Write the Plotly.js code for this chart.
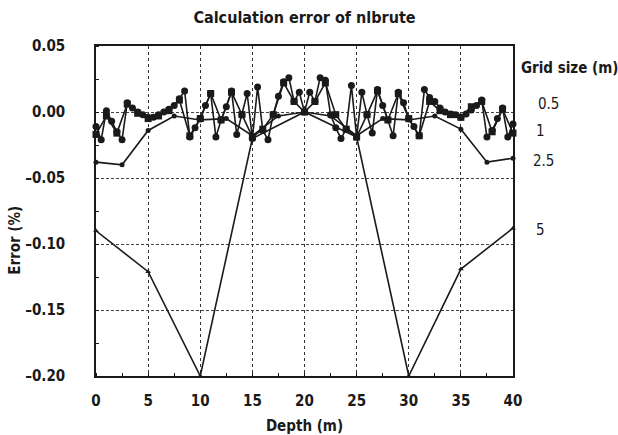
<!DOCTYPE html>
<html>
<head>
<meta charset="utf-8">
<script src="https://cdn.plot.ly/plotly-3.0.1.min.js"></script>
<style>
html,body{margin:0;padding:0;background:#fff;}
#chart{width:618px;height:435px;}
#chart text{font-stretch:condensed;}
</style>
</head>
<body>
<div id="chart"></div>
<script>
// Depth positions for each grid size (m)
const depth05 = [0,0.5,1,1.5,2,2.5,3,3.5,4,4.5,5,5.5,6,6.5,7,7.5,8,8.5,9,9.5,10,10.5,11,11.5,12,12.5,13,13.5,14,14.5,15,15.5,16,16.5,17,17.5,18,18.5,19,19.5,20,20.5,21,21.5,22,22.5,23,23.5,24,24.5,25,25.5,26,26.5,27,27.5,28,28.5,29,29.5,30,30.5,31,31.5,32,32.5,33,33.5,34,34.5,35,35.5,36,36.5,37,37.5,38,38.5,39,39.5,40];
const err05 = [-0.011,-0.021,0.001,-0.007,-0.015,-0.021,0.007,0.003,0.000,-0.002,-0.004,-0.004,-0.002,0.000,0.002,0.005,0.010,0.016,-0.019,-0.012,-0.005,0.005,0.014,-0.019,-0.006,0.004,0.016,-0.017,-0.002,0.014,-0.020,0.019,-0.014,-0.021,-0.002,0.012,0.023,0.026,0.008,0.015,0.000,0.015,0.008,0.026,0.024,-0.002,-0.012,-0.020,-0.013,0.020,-0.019,0.015,-0.002,-0.016,0.017,0.005,-0.006,-0.018,0.015,0.007,-0.005,-0.011,-0.018,0.017,0.011,0.008,0.003,0.000,-0.0015,-0.002,-0.004,-0.0015,0.0015,0.005,0.009,-0.019,-0.014,-0.005,0.003,-0.019,-0.009];

const depth1 = [0,1,2,3,4,5,6,7,8,9,10,11,12,13,14,15,16,17,18,19,20,21,22,23,24,25,26,27,28,29,30,31,32,33,34,35,36,37,38,39,40];
const err1 = [-0.017,-0.003,-0.016,0.006,-0.001,-0.005,-0.003,0.001,0.009,-0.018,-0.005,0.014,-0.006,0.015,-0.002,-0.019,-0.013,-0.002,0.022,0.008,0.000,0.008,0.022,-0.002,-0.013,-0.019,-0.002,0.016,-0.006,0.014,-0.005,-0.018,0.008,0.001,-0.002,-0.004,0.004,0.008,-0.015,0.002,-0.016];

const depth25 = [0,2.5,5,7.5,10,12.5,15,17.5,20,22.5,25,27.5,30,32.5,35,37.5,40];
const err25 = [-0.038,-0.040,-0.014,-0.003,-0.006,-0.005,-0.018,-0.003,0.000,-0.003,-0.018,-0.005,-0.006,-0.003,-0.013,-0.038,-0.035];

const depth5 = [0,5,10,15,20,25,30,35,40];
const err5 = [-0.090,-0.121,-0.200,-0.020,0.000,-0.019,-0.200,-0.119,-0.088];

const gridLabels = ["0.5","1","2.5","5"];
const xTicks = [0,5,10,15,20,25,30,35,40];
const yTicks = [0.05,0.00,-0.05,-0.10,-0.15,-0.20];
const yTickText = ["0.05","0.00","\u20130.05","\u20130.10","\u20130.15","\u20130.20"];

const FONT = "'DejaVu Sans Condensed','DejaVu Sans',sans-serif";
const INK = "#1a1a1a";
const W = 'bold';

function tr(x, y, sym, size) {
  return {x: x, y: y, type: 'scatter', mode: 'lines+markers',
    line: {color: INK, width: 1.6},
    marker: {symbol: sym, size: size, color: INK},
    cliponaxis: false, showlegend: false};
}

const data = [
  tr(depth5, err5, 'triangle-up', 5),
  tr(depth25, err25, 'circle', 5),
  tr(depth1, err1, 'square', 7),
  tr(depth05, err05, 'circle', 7)
];

const labelY = [0.824, 0.742, 0.652, 0.442];
const labelX = [1.084, 1.067, 1.072, 1.067];
const annotations = gridLabels.map((t, i) => ({
  text: t, xref: 'paper', yref: 'paper', x: labelX[i], y: labelY[i],
  xanchor: 'center', yanchor: 'middle', showarrow: false,
  font: {family: FONT, size: 15, color: INK}
}));
annotations.push({text: 'Grid size (m)', xref: 'paper', yref: 'paper', x: 1.135, y: 0.933,
  xanchor: 'center', yanchor: 'middle', showarrow: false,
  font: {family: FONT, size: 15, color: INK, weight: W}});
annotations.push({text: 'Error (%)', xref: 'paper', yref: 'paper', x: -0.194, y: 0.41,
  xanchor: 'center', yanchor: 'middle', showarrow: false, textangle: -90,
  font: {family: FONT, size: 15, color: INK, weight: W}});

const layout = {
  width: 618, height: 435,
  margin: {l: 96, r: 105, t: 46, b: 59},
  paper_bgcolor: '#fff', plot_bgcolor: '#fff',
  font: {family: FONT, color: INK, size: 15},
  title: {text: 'Calculation error of nlbrute', x: 0.5, xref: 'paper', xanchor: 'center', y: 0.96, yanchor: 'middle',
    font: {family: FONT, size: 16, color: INK, weight: W}},
  xaxis: {
    range: [0, 40], tickvals: xTicks, ticktext: xTicks.map(String),
    showline: true, linecolor: INK, linewidth: 1.8, mirror: true,
    showgrid: true, gridcolor: '#333', gridwidth: 1.2, griddash: 'dot',
    zeroline: false, ticks: '', ticklabelstandoff: 10,
    minor: {dtick: 2.5, ticks: 'inside', ticklen: 3, tickcolor: INK, showgrid: false},
    tickfont: {family: FONT, size: 15, color: INK, weight: W},
    title: {text: 'Depth (m)', standoff: 12, font: {family: FONT, size: 15, color: INK, weight: W}}
  },
  yaxis: {
    range: [-0.2, 0.05], tickvals: yTicks, ticktext: yTickText,
    showline: true, linecolor: INK, linewidth: 1.8, mirror: true,
    showgrid: true, gridcolor: '#444', gridwidth: 1, griddash: '3px,2px',
    zeroline: false, ticks: '', ticklabelstandoff: 26,
    minor: {dtick: 0.025, ticks: 'inside', ticklen: 3, tickcolor: INK, showgrid: false},
    tickfont: {family: FONT, size: 15, color: INK, weight: W}
  },
  annotations: annotations
};

Plotly.newPlot('chart', data, layout, {displayModeBar: false, staticPlot: true});
</script>
</body>
</html>
